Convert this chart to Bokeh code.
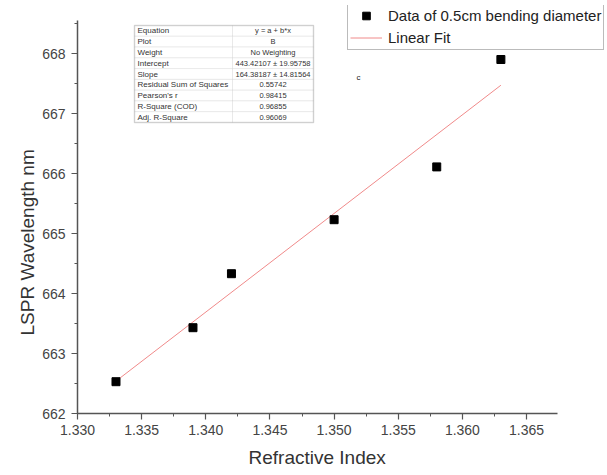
from bokeh.plotting import figure
from bokeh.models import (Range1d, SingleIntervalTicker, NumeralTickFormatter, Legend, LegendItem,
                          Label, BoxAnnotation, ColumnDataSource, Title)
from bokeh.embed import file_html
from bokeh.resources import INLINE

# ---- data ----
refractive_index = [1.333, 1.339, 1.342, 1.350, 1.358, 1.363]
lspr_wavelength = [662.53, 663.43, 664.33, 665.23, 666.11, 667.90]
fit_x = [1.333, 1.363]
fit_y = [662.540, 667.471]
x_title = "Refractive Index"
y_title = "LSPR Wavelength nm"
series_label = "Data of 0.5cm bending diameter"
fit_label = "Linear Fit"
table_rows = [
    ("Equation", "y = a + b*x"),
    ("Plot", "B"),
    ("Weight", "No Weighting"),
    ("Intercept", "443.42107 \u00b1 19.95758"),
    ("Slope", "164.38187 \u00b1 14.81564"),
    ("Residual Sum of Squares", "0.55742"),
    ("Pearson's r", "0.98415"),
    ("R-Square (COD)", "0.96855"),
    ("Adj. R-Square", "0.96069"),
]

W, H = 607, 475
FL, FR, FT, FB = 77, 604, 5, 413   # frame edges in px
X0 = 1.330
X_AXIS_END = 1.3674
PX_PER_UNIT_X = 12830.0
X1 = X0 + (FR - FL) / PX_PER_UNIT_X
Y0 = 662.0
PX_PER_UNIT_Y = 60.0
Y1 = Y0 + (FB - FT) / PX_PER_UNIT_Y
Y_AXIS_TOP = 668.55

def dx(px):
    return X0 + (px - FL) * (X1 - X0) / (FR - FL)

def dy(py):
    return Y0 + (FB - py) * (Y1 - Y0) / (FB - FT)

FONT = "Liberation Sans"

p = figure(width=W, height=H, output_backend="svg", toolbar_location=None,
           x_range=Range1d(X0, X1), y_range=Range1d(Y0, Y1),
           min_border_left=FL, min_border_right=W - FR, min_border_top=FT, min_border_bottom=H - FB)
p.outline_line_color = None
p.xgrid.visible = False
p.ygrid.visible = False
p.background_fill_color = "white"
p.border_fill_color = "white"

for ax in (p.xaxis[0], p.yaxis[0]):
    ax.axis_line_color = "#555555"
    ax.axis_line_width = 1.5
    ax.major_tick_line_color = "#555555"
    ax.minor_tick_line_color = "#555555"
    ax.major_tick_line_width = 1.2
    ax.major_tick_out = 6
    ax.major_tick_in = 0
    ax.minor_tick_out = 3
    ax.minor_tick_in = 0
    ax.major_label_text_font = FONT
    ax.major_label_text_font_size = "14px"
    ax.major_label_text_color = "#444444"

p.xaxis.ticker = SingleIntervalTicker(interval=0.005, num_minor_ticks=2)
p.xaxis.formatter = NumeralTickFormatter(format="0.000")
p.xaxis.bounds = (X0, X_AXIS_END)
p.yaxis.ticker = SingleIntervalTicker(interval=1, num_minor_ticks=2)
p.yaxis.bounds = (Y0, Y_AXIS_TOP)
p.xaxis.major_label_standoff = 5
p.yaxis.major_label_standoff = 6

# axis titles placed as side titles so they can be positioned like the reference
xt = Title(text=x_title, align="left", offset=171, text_font=FONT, text_font_size="19px",
           text_font_style="normal", text_color="#333333", standoff=14)
p.add_layout(xt, "below")
yt = Title(text=y_title, align="left", offset=78, text_font=FONT, text_font_size="19px",
           text_font_style="normal", text_color="#333333", standoff=4)
p.add_layout(yt, "left")

src = ColumnDataSource(dict(x=refractive_index, y=lspr_wavelength))
fit_src = ColumnDataSource(dict(x=fit_x, y=fit_y))
r_fit = p.line("x", "y", source=fit_src, line_color="#F08A8A", line_width=1)
r_pts = p.scatter("x", "y", source=src, marker="square", size=8, fill_color="black", line_color="black")

legend = Legend(items=[LegendItem(label=series_label, renderers=[r_pts]),
                       LegendItem(label=fit_label, renderers=[r_fit])],
                location=(347 - FL, FB - 50))
legend.label_text_font = FONT
legend.label_text_font_size = "15px"
legend.label_text_color = "#222222"
legend.border_line_color = "#777777"
legend.border_line_width = 1
legend.background_fill_color = "white"
legend.background_fill_alpha = 1
legend.padding = 2
legend.margin = 0
legend.spacing = 3
legend.glyph_width = 32
legend.glyph_height = 19
legend.label_height = 19
legend.label_standoff = 6
p.add_layout(legend)

# ---- fit statistics table ----
TL, TR, TT, TB = 134, 313, 25, 122
TC = 232
rh = (TB - TT) / len(table_rows)
for i, (k, v) in enumerate(table_rows):
    top = TT + i * rh
    bot = top + rh
    p.add_layout(BoxAnnotation(left=dx(TL), right=dx(TC), top=dy(top), bottom=dy(bot),
                               fill_color="white", fill_alpha=1, line_color="#bbbbbb", line_width=0.8))
    p.add_layout(BoxAnnotation(left=dx(TC), right=dx(TR), top=dy(top), bottom=dy(bot),
                               fill_color="white", fill_alpha=1, line_color="#bbbbbb", line_width=0.8))
    p.add_layout(Label(x=dx(TL + 3), y=dy(top + rh / 2), text=k, text_font=FONT,
                       text_font_size="8px", text_color="#333333", text_baseline="middle"))
    p.add_layout(Label(x=dx((TC + TR) / 2), y=dy(top + rh / 2), text=v, text_font=FONT,
                       text_font_size="7.5px", text_color="#333333", text_baseline="middle",
                       text_align="center"))
p.add_layout(BoxAnnotation(left=dx(TL), right=dx(TR), top=dy(TT), bottom=dy(TB),
                           fill_alpha=0, line_color="#888888", line_width=1.5))

p.add_layout(Label(x=dx(358), y=dy(77), text="c", text_font=FONT, text_font_size="8px",
                   text_color="#222222", text_baseline="middle", text_align="center"))

open("out.html", "w").write(file_html(p, INLINE))
